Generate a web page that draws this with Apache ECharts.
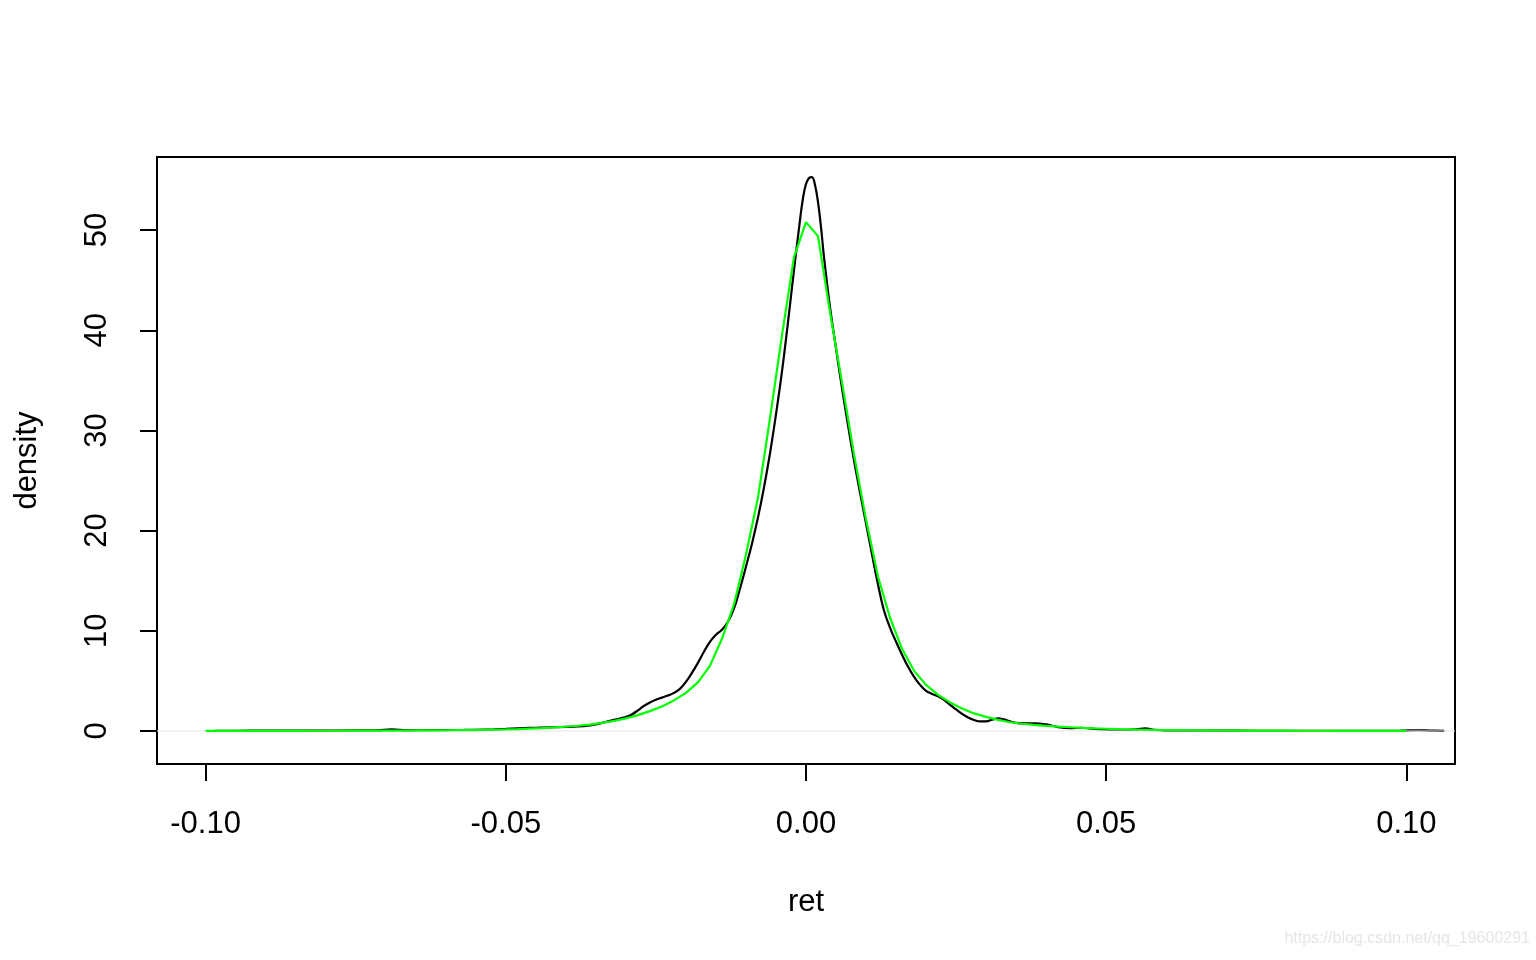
<!DOCTYPE html>
<html>
<head>
<meta charset="utf-8">
<title>density of ret</title>
<script src="https://cdn.jsdelivr.net/npm/echarts@6/dist/echarts.min.js"></script>
<style>
  html, body { margin: 0; padding: 0; background: #fff; }
  #chart { width: 1536px; height: 960px; }
</style>
</head>
<body>
<div id="chart"></div>
<script>
  // kernel density of ret (black)
  const kdeX = [-0.0985, -0.095, -0.09, -0.085, -0.08, -0.075, -0.0715, -0.069, -0.0665, -0.063, -0.06, -0.057, -0.055, -0.052, -0.05,
    -0.048, -0.046, -0.044, -0.042, -0.04, -0.038, -0.036, -0.035, -0.034, -0.033, -0.032, -0.031, -0.03, -0.029, -0.028,
    -0.027, -0.026, -0.025, -0.024, -0.023, -0.022, -0.021, -0.02, -0.019, -0.018, -0.017, -0.016, -0.015, -0.014, -0.013,
    -0.012, -0.011, -0.01, -0.009, -0.008, -0.007, -0.006, -0.005, -0.004, -0.003, -0.002, -0.001, -0.0005, 0, 0.0005,
    0.001, 0.0015, 0.002, 0.0025, 0.003, 0.004, 0.005, 0.006, 0.007, 0.008, 0.009, 0.01, 0.011, 0.012, 0.013,
    0.014, 0.015, 0.016, 0.017, 0.018, 0.019, 0.02, 0.021, 0.022, 0.023, 0.024, 0.025, 0.026, 0.027, 0.028,
    0.029, 0.03, 0.031, 0.032, 0.033, 0.034, 0.035, 0.036, 0.038, 0.04, 0.042, 0.044, 0.046, 0.048, 0.05,
    0.052, 0.055, 0.0565, 0.058, 0.061, 0.065, 0.07, 0.075, 0.08, 0.085, 0.09, 0.095, 0.099, 0.102, 0.104, 0.1063]
  const kdeY = [0.02, 0.02, 0.03, 0.04, 0.04, 0.05, 0.06, 0.15, 0.06, 0.08, 0.09, 0.1, 0.12, 0.16, 0.2,
    0.25, 0.3, 0.34, 0.37, 0.4, 0.45, 0.56, 0.66, 0.8, 0.95, 1.1, 1.24, 1.4, 1.65, 2.05,
    2.5, 2.85, 3.12, 3.33, 3.53, 3.8, 4.2, 4.9, 5.8, 6.8, 7.9, 8.9, 9.6, 10.1, 10.9,
    12.2, 14.2, 16.4, 18.7, 21.3, 24.3, 27.7, 31.6, 35.9, 40.8, 46.0, 51.0, 53.2, 54.6, 55.2,
    55.3, 54.5, 52.8, 50.3, 47.3, 42.3, 38.2, 34.2, 30.5, 27.0, 23.8, 20.7, 17.6, 14.6, 12.0,
    10.3, 8.9, 7.6, 6.4, 5.4, 4.6, 4.0, 3.7, 3.45, 3.1, 2.6, 2.15, 1.7, 1.35, 1.1,
    0.95, 0.95, 1.12, 1.25, 1.15, 0.95, 0.8, 0.75, 0.77, 0.65, 0.38, 0.27, 0.32, 0.2, 0.12,
    0.1, 0.15, 0.25, 0.12, 0.03, 0.03, 0.03, 0.02, 0.02, 0.02, 0.02, 0.02, 0.03, 0.07, 0.04, 0.01]

  // fitted density (green), evaluated on -0.10 .. 0.10 by 0.002
  const fitStart = -0.1
  const fitStep = 0.002
  const fitY = [0.01, 0.01, 0.01, 0.01, 0.012, 0.013, 0.014, 0.015, 0.017, 0.019,
    0.02, 0.022, 0.025, 0.028, 0.032, 0.036, 0.04, 0.045, 0.052, 0.06,
    0.07, 0.08, 0.09, 0.11, 0.13, 0.15, 0.19, 0.24, 0.29, 0.35,
    0.42, 0.52, 0.64, 0.8, 1.0, 1.25, 1.58, 1.98, 2.45, 3.05,
    3.8, 4.85, 6.5, 9.2, 12.6, 17.6, 23.3, 31.2, 39.5, 47.3,
    50.8, 49.4, 41.8, 34.8, 27.6, 21.1, 15.4, 11.3, 8.2, 6.0,
    4.6, 3.6, 2.85, 2.25, 1.75, 1.4, 1.1, 0.87, 0.72, 0.6,
    0.5, 0.43, 0.37, 0.31, 0.26, 0.22, 0.18, 0.15, 0.12, 0.1,
    0.09, 0.08, 0.07, 0.06, 0.05, 0.045, 0.04, 0.035, 0.03, 0.028,
    0.025, 0.022, 0.02, 0.018, 0.016, 0.015, 0.014, 0.013, 0.012, 0.011, 0.01]

  const xTicks = [-0.1, -0.05, 0, 0.05, 0.1]
  const yTicks = [0, 10, 20, 30, 40, 50]
  const xRange = [-0.1081, 0.1081]
  const yRange = [-3.3, 57.3]

  const kdeData = kdeX.map((x, i) => [x, kdeY[i]])
  const fitData = fitY.map((y, i) => [+(fitStart + i * fitStep).toFixed(3), y])

  const font = 'Liberation Sans, Arial, Helvetica, sans-serif'

  const chart = echarts.init(document.getElementById('chart'))
  const option = {
    animation: false,
    backgroundColor: '#fff',
    textStyle: { fontFamily: font },
    grid: {
      left: 157, top: 157, width: 1298, height: 607,
      show: true, borderColor: '#000', borderWidth: 2, backgroundColor: 'transparent'
    },
    xAxis: {
      type: 'value',
      min: xRange[0],
      max: xRange[1],
      name: 'ret',
      nameLocation: 'middle',
      nameGap: 123,
      nameTextStyle: { color: '#000', fontSize: 31, fontFamily: font },
      axisLine: { show: false, onZero: false },
      splitLine: { show: false },
      axisTick: {
        show: true, length: 17, customValues: xTicks,
        lineStyle: { color: '#000', width: 2 }
      },
      axisLabel: {
        customValues: xTicks,
        margin: 45,
        color: '#000', fontSize: 31, fontFamily: font,
        formatter: v => v.toFixed(2)
      }
    },
    yAxis: {
      type: 'value',
      min: yRange[0],
      max: yRange[1],
      name: 'density',
      nameLocation: 'middle',
      nameGap: 114,
      nameRotate: 90,
      nameTextStyle: { color: '#000', fontSize: 31, fontFamily: font },
      axisLine: { show: false, onZero: false },
      splitLine: { show: false },
      axisTick: {
        show: true, length: 17, customValues: yTicks,
        lineStyle: { color: '#000', width: 2 }
      },
      axisLabel: {
        customValues: yTicks,
        rotate: 90,
        margin: 44,
        color: '#000', fontSize: 31, fontFamily: font
      }
    },
    graphic: [{
      type: 'text',
      right: 6,
      top: 931,
      style: {
        text: 'https://blog.csdn.net/qq_19600291',
        fill: '#e6e6e6',
        font: '16px ' + font
      }
    }],
    series: [
      {
        name: 'kde',
        type: 'line',
        data: kdeData,
        showSymbol: false,
        smooth: 0.4,
        lineStyle: { color: '#000', width: 2.2 },
        z: 2
      },
      {
        name: 'zero',
        type: 'line',
        data: [[xRange[0], 0], [xRange[1], 0]],
        showSymbol: false,
        lineStyle: { color: '#e3e3e3', width: 1 },
        z: 3
      },
      {
        name: 'fit',
        type: 'line',
        data: fitData,
        showSymbol: false,
        lineStyle: { color: '#00ff00', width: 2.2 },
        z: 4
      }
    ]
  }
  option && chart.setOption(option)
</script>
</body>
</html>
